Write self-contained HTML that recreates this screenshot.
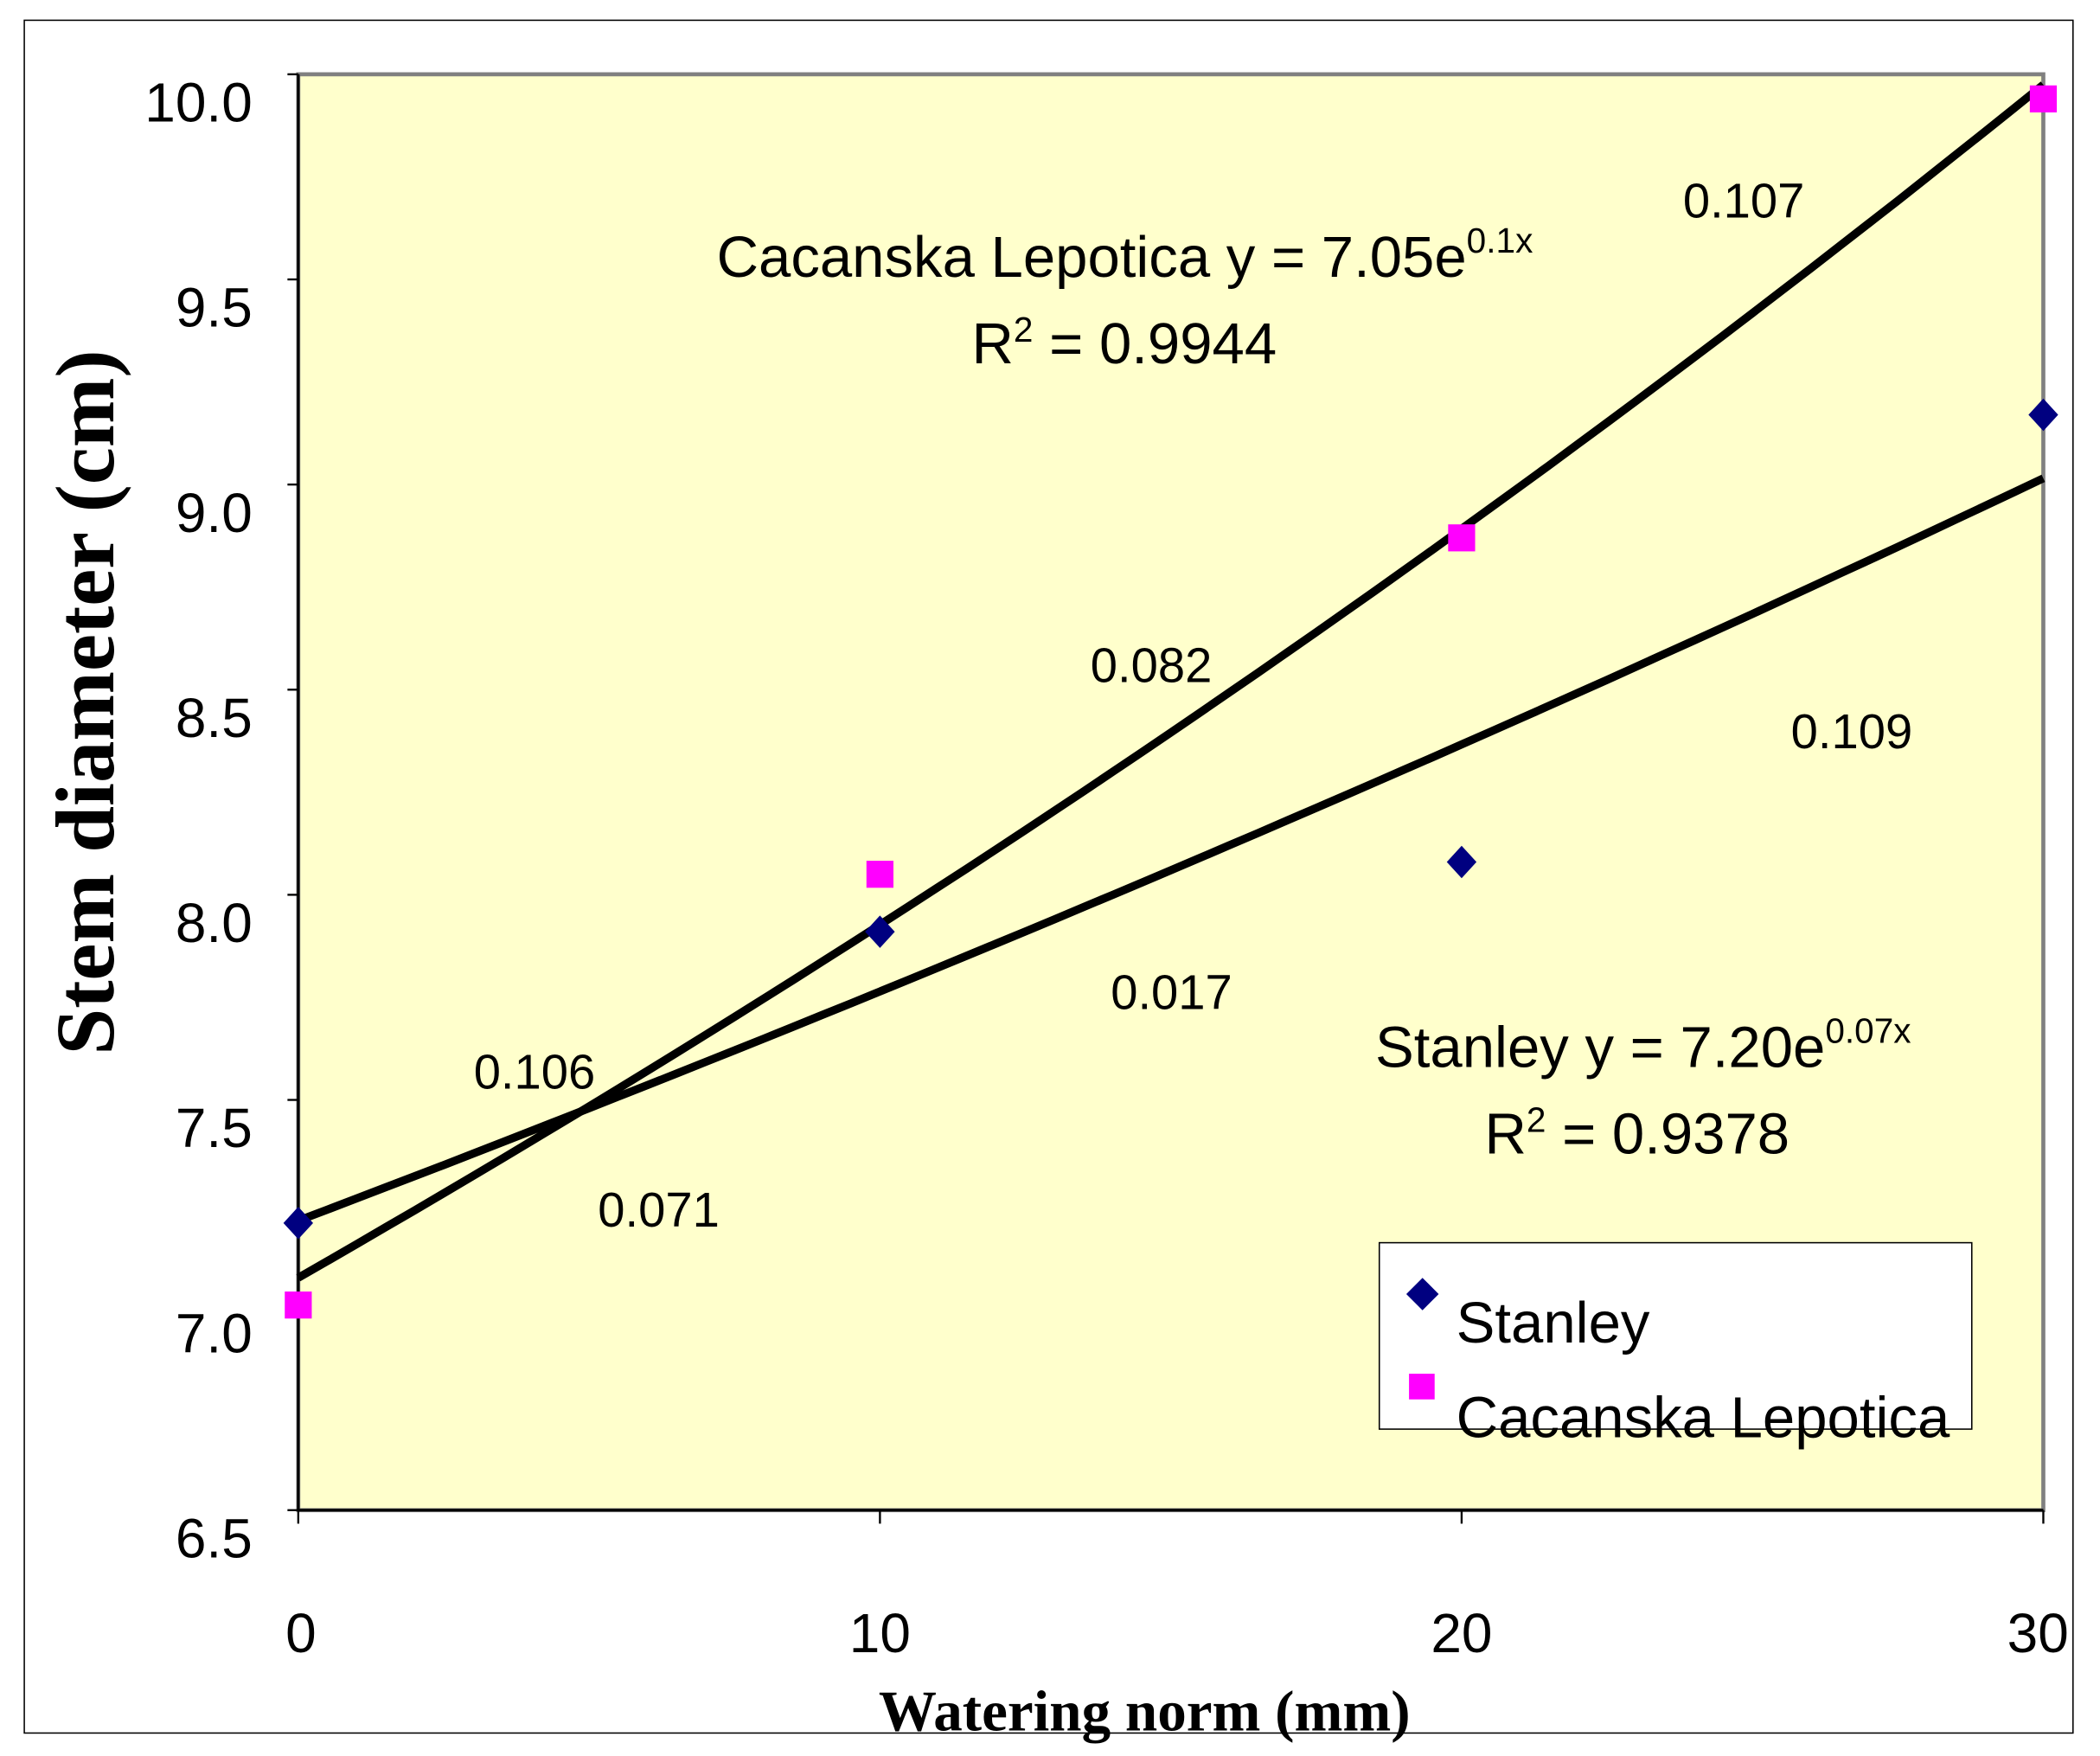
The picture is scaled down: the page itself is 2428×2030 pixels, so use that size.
<!DOCTYPE html>
<html><head><meta charset="utf-8"><style>
html,body{margin:0;padding:0;background:#fff;width:2428px;height:2030px;overflow:hidden}
svg{display:block}
text{font-family:"Liberation Sans",Arial,sans-serif;fill:#000}
.serif{font-family:"Liberation Serif","Times New Roman",serif;font-weight:bold}
</style></head><body>
<svg id="chart" width="2428" height="2030" viewBox="0 0 1556 1300" preserveAspectRatio="none" xmlns="http://www.w3.org/2000/svg">
<rect x="18" y="15" width="1518" height="1268" fill="#fff" stroke="#000" stroke-width="1"/>
<rect x="221" y="55" width="1293" height="1063" fill="#FFFFCC" stroke="#808080" stroke-width="3"/>
<g id="axes"></g>
<g id="trend"></g>
<g id="marks"></g>
<g font-size="36">
<text x="1247" y="161">0.107</text>
<text x="808" y="505">0.082</text>
<text x="1327" y="554">0.109</text>
<text x="823" y="747">0.017</text>
<text x="351" y="806">0.106</text>
<text x="443" y="908">0.071</text>
</g>
<g font-size="43">
<text x="531" y="205">Cacanska Lepotica y = 7.05e<tspan font-size="26" dy="-18">0.1x</tspan></text>
<text x="720" y="269">R<tspan font-size="26" dy="-16">2</tspan><tspan dy="16"> = 0.9944</tspan></text>
</g>
<g font-size="43">
<text x="1019" y="790">Stanley y = 7.20e<tspan font-size="26" dy="-18">0.07x</tspan></text>
<text x="1100" y="854">R<tspan font-size="26" dy="-16">2</tspan><tspan dy="16"> = 0.9378</tspan></text>
</g>
<g>
<rect x="1022" y="920" width="439" height="138" fill="#fff" stroke="#000" stroke-width="1"/>
<path d="M1054,946 L1066,958 L1054,970 L1042,958 Z" fill="#000080"/>
<text x="1079" y="994" font-size="43">Stanley</text>
<rect x="1044" y="1017" width="19" height="19" fill="#FF00FF"/>
<text x="1079" y="1064" font-size="43">Cacanska Lepotica</text>
</g>
<text class="serif" x="848" y="1281" font-size="43" text-anchor="middle">Watering norm (mm)</text>
<text class="serif" transform="translate(84,520) rotate(-90)" font-size="62" text-anchor="middle">Stem diameter (cm)</text>
</svg>
<script>
const xCategories = [0, 10, 20, 30];
const stanleyValues = [7.20, 7.91, 8.08, 9.17];
const cacanskaValues = [7.00, 8.05, 8.87, 9.94];
const yTicks = [6.5, 7.0, 7.5, 8.0, 8.5, 9.0, 9.5, 10.0];
const yTickLabels = ["6.5","7.0","7.5","8.0","8.5","9.0","9.5","10.0"];
const xTickLabels = ["0","10","20","30"];

const NS = "http://www.w3.org/2000/svg";
const L = 221, R = 1514, T = 55, B = 1118;
function xs(v){ return L + (v - 0) / 30 * (R - L); }
function ys(v){ return B - (v - 6.5) / 3.5 * (B - T); }
function mk(tag, attrs, parent){ const e = document.createElementNS(NS, tag); for (const k in attrs) e.setAttribute(k, attrs[k]); parent.appendChild(e); return e; }

const axes = document.getElementById('axes');
const yAxis = mk('line', {x1:L, y1:T, x2:L, y2:B, stroke:'#000', 'stroke-width':2}, axes);


const xAxis = mk('line', {x1:L, y1:B, x2:R, y2:B, stroke:'#000', 'stroke-width':2}, axes);


yTicks.forEach((v, i) => {
  const t = mk('line', {x1:L-8, y1:ys(v), x2:L, y2:ys(v), stroke:'#000', 'stroke-width':1.5}, axes);
  
  
  const lb = mk('text', {x:187, y:ys(v)+35, 'font-size':41, 'text-anchor':'end'}, axes);
  lb.textContent = yTickLabels[i];
  
  
});
xCategories.forEach((v, i) => {
  const t = mk('line', {x1:xs(v), y1:B, x2:xs(v), y2:B+10, stroke:'#000', 'stroke-width':1.5}, axes);
  
  
  const lb = mk('text', {x:xs(v)+(i===0?2:(i===3?-4:0)), y:1223, 'font-size':41, 'text-anchor':'middle'}, axes);
  lb.textContent = xTickLabels[i];
  
  
});

function expFit(xv, yv){
  const n = xv.length; let sx=0, sy=0, sxx=0, sxy=0;
  for (let i=0;i<n;i++){ const ly=Math.log(yv[i]); sx+=xv[i]; sy+=ly; sxx+=xv[i]*xv[i]; sxy+=xv[i]*ly; }
  const b = (n*sxy - sx*sy)/(n*sxx - sx*sx); const a = Math.exp((sy - b*sx)/n);
  return x => a*Math.exp(b*x);
}
const trend = document.getElementById('trend');
[[stanleyValues,'trendline-stanley'],[cacanskaValues,'trendline-cacanska']].forEach(([vals,name]) => {
  const f = expFit(xCategories, vals); let d = '';
  for (let x=0; x<=30.0001; x+=0.5) d += (d?' L':'M') + xs(x).toFixed(1) + ',' + ys(f(x)).toFixed(1);
  const p = mk('path', {d:d, fill:'none', stroke:'#000', 'stroke-width':6}, trend);
  
  
});

const marks = document.getElementById('marks');
stanleyValues.forEach((v, i) => {
  const cx = xs(xCategories[i]), cy = ys(v);
  const p = mk('path', {d:`M${cx},${cy-12} L${cx+11},${cy} L${cx},${cy+12} L${cx-11},${cy} Z`, fill:'#000080'}, marks);
  
  
});
cacanskaValues.forEach((v, i) => {
  const cx = xs(xCategories[i]), cy = ys(v);
  const r = mk('rect', {x:cx-10, y:cy-10, width:20, height:20, fill:'#FF00FF'}, marks);
  
  
});
</script>
</body></html>
